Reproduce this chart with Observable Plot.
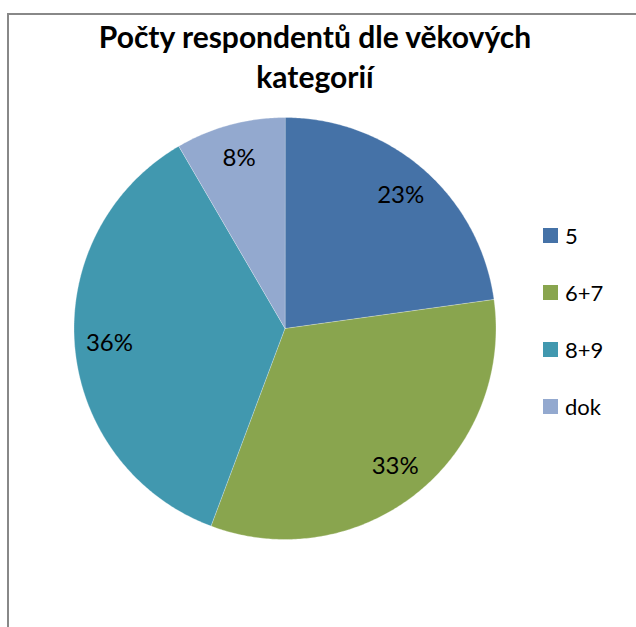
<!DOCTYPE html>
<html><head><meta charset="utf-8">
<script src="https://cdn.jsdelivr.net/npm/d3@7"></script>
<script src="https://cdn.jsdelivr.net/npm/@observablehq/plot@0.6"></script>
<style>
html,body{margin:0;padding:0;background:#fff;}
#wrap{position:relative;width:636px;height:627px;overflow:hidden;font-family:Lato,"Open Sans",sans-serif;}
#frame{position:absolute;left:7px;top:13px;width:700px;height:700px;border-left:2px solid #888;border-top:2px solid #888;}
#title{position:absolute;left:0;width:630px;top:16px;text-align:center;font-weight:bold;font-size:30px;line-height:40px;color:#000;}
#chart{position:absolute;left:0;top:0;}
#legend{position:absolute;left:543px;top:223px;font-size:22px;color:#000;}
.item{display:flex;align-items:center;height:24px;margin-bottom:33.3px;}
.sw{width:15px;height:15px;margin-right:7px;}
</style></head>
<body><div id="wrap"><div id="frame"></div><div id="chart"></div>
<div id="title">Počty respondentů dle věkových<br>kategorií</div>
<div id="legend"></div></div>
<script>
const categories = ["5", "6+7", "8+9", "dok"];
const values = [22.8, 32.9, 35.9, 8.4];
const colors = ["#4572A7", "#89A54E", "#4198AF", "#93A9CF"];
const labels = ["23%", "33%", "36%", "8%"];

const pie = d3.pie().sort(null).value(d => d.value)(categories.map((c, i) => ({cat: c, value: values[i], label: labels[i]})));
// slice outlines in unit coordinates (angle 0 at 12 o'clock, clockwise)
const pts = [];
for (const s of pie) {
  const n = Math.max(2, Math.ceil((s.endAngle - s.startAngle) / 0.01));
  pts.push({cat: s.data.cat, x: 0, y: 0});
  for (let k = 0; k <= n; k++) {
    const a = s.startAngle + (s.endAngle - s.startAngle) * k / n;
    pts.push({cat: s.data.cat, x: Math.sin(a), y: Math.cos(a)});
  }
}
const lab = pie.map(s => {
  const a = (s.startAngle + s.endAngle) / 2;
  return {label: s.data.label, x: 0.835 * Math.sin(a), y: 0.835 * Math.cos(a)};
});
const R = 211, cx = 284.5, cy = 328;
const chart = Plot.plot({
  width: 636, height: 627, margin: 0,
  x: {domain: [-1, 1], range: [cx - R, cx + R], axis: null},
  y: {domain: [-1, 1], range: [cy + R, cy - R], axis: null},
  color: {domain: categories, range: colors},
  style: {background: "transparent", fontFamily: "Lato, 'Open Sans', sans-serif"},
  marks: [
    Plot.line(pts, {x: "x", y: "y", z: "cat", fill: "cat", stroke: "white", strokeWidth: 0.6, strokeOpacity: 0.5, curve: "linear-closed"}),
    Plot.text(lab, {x: "x", y: "y", text: "label", fontSize: 24, fill: "#000"})
  ]
});
document.getElementById("chart").appendChild(chart);
const lg = document.getElementById("legend");
categories.forEach((c, i) => {
  const it = document.createElement("div"); it.className = "item";
  const sw = document.createElement("div"); sw.className = "sw"; sw.style.background = colors[i];
  const t = document.createElement("span"); t.textContent = c;
  it.appendChild(sw); it.appendChild(t); lg.appendChild(it);
});
</script></body></html>
